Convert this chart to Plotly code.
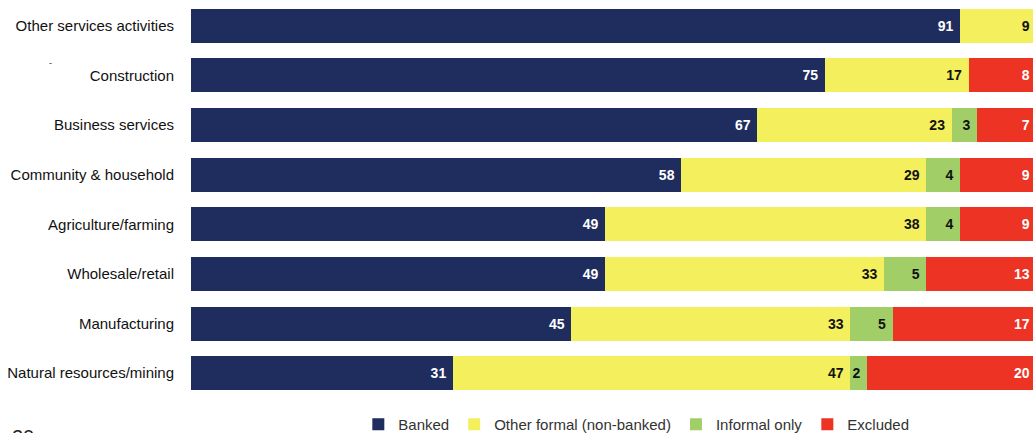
import plotly.graph_objects as go

# Sector breakdown of financial access (percent of businesses)
sectors = [
    "Other services activities",
    "Construction",
    "Business services",
    "Community & household",
    "Agriculture/farming",
    "Wholesale/retail",
    "Manufacturing",
    "Natural resources/mining",
]
banked = [91, 75, 67, 58, 49, 49, 45, 31]
other_formal = [9, 17, 23, 29, 38, 33, 33, 47]
informal_only = [None, None, 3, 4, 4, 5, 5, 2]
excluded = [None, 8, 7, 9, 9, 13, 17, 20]

series = [
    ("Banked", banked, "#1F2D5E", "white"),
    ("Other formal (non-banked)", other_formal, "#F4EF5C", "#111111"),
    ("Informal only", informal_only, "#A2CE67", "#111111"),
    ("Excluded", excluded, "#EC3324", "white"),
]

FONT = "Liberation Sans, Arial, sans-serif"
PAD = "\u00a0"  # a little extra room between a value and its segment's end

fig = go.Figure()
for name, vals, color, txtcolor in series:
    fig.add_trace(go.Bar(
        name=name,
        y=sectors,
        x=vals,
        orientation="h",
        marker=dict(color=color, line=dict(width=0)),
        width=0.685,
        text=[f"{v}{PAD}" if v is not None else "" for v in vals],
        textposition="inside",
        insidetextanchor="end",
        constraintext="none",
        textfont=dict(family=FONT, size=14, color=txtcolor, weight="bold"),
        hoverinfo="skip",
    ))

fig.update_layout(
    barmode="stack",
    width=1033,
    height=433,
    margin=dict(l=191, r=0, t=1, b=35),
    paper_bgcolor="white",
    plot_bgcolor="white",
    font=dict(family=FONT, size=15, color="#222222"),
    showlegend=True,
    legend=dict(
        orientation="h",
        xref="container",
        yref="container",
        x=0.616,
        xanchor="center",
        y=0.058,
        yanchor="top",
        font=dict(family=FONT, size=15, color="#333333"),
        itemwidth=30,
        traceorder="normal",
    ),
    xaxis=dict(
        range=[0, 99.6],
        visible=False,
        showgrid=False,
        zeroline=False,
    ),
    yaxis=dict(
        categoryorder="array",
        categoryarray=sectors,
        autorange="reversed",
        showgrid=False,
        zeroline=False,
        showline=False,
        ticks="",
        ticklabelstandoff=16,
        tickfont=dict(family=FONT, size=15, color="#111111"),
    ),
    annotations=[
        dict(text="-", xref="paper", yref="paper", x=-0.1705, y=0.862,
             showarrow=False, font=dict(family=FONT, size=9, color="#333333")),
        dict(text="20", xref="paper", yref="paper", x=-0.215, y=-0.066,
             xanchor="left", yanchor="top", showarrow=False,
             font=dict(family=FONT, size=20, color="#222222")),
    ],
)

fig.write_html("out.html")
